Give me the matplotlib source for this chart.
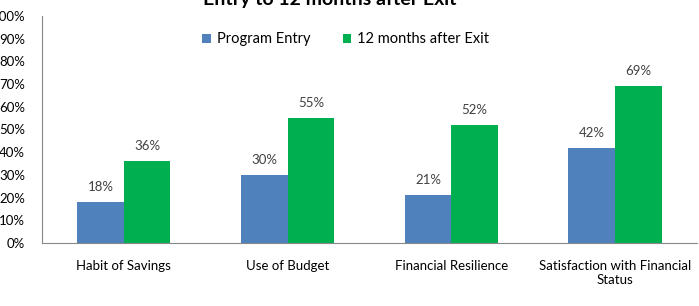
import matplotlib
matplotlib.use("Agg")
import matplotlib.pyplot as plt
import numpy as np

categories = ["Habit of Savings", "Use of Budget", "Financial Resilience",
              "Satisfaction with Financial\nStatus"]
program_entry = [18, 30, 21, 42]
after_exit = [36, 55, 52, 69]
series_names = ["Program Entry", "12 months after Exit"]
title = "Entry to 12 months after Exit"

plt.rcParams['font.family'] = ['Lato', 'DejaVu Sans']

fig = plt.figure(figsize=(6.99, 3.06), dpi=100)
ax = fig.add_axes([0.060, 0.206, 0.937, 0.742])

x = np.arange(len(categories))
w = 0.285
b1 = ax.bar(x - w / 2, program_entry, w, color="#4F81BD", label=series_names[0])
b2 = ax.bar(x + w / 2, after_exit, w, color="#00B050", label=series_names[1])

for bars, vals in ((b1, program_entry), (b2, after_exit)):
    for r, v in zip(bars, vals):
        ax.text(r.get_x() + r.get_width() / 2, v + 4, f"{v}%", ha="center",
                va="bottom", fontsize=9.5, color="#404040")

ax.set_xlim(-0.5, len(categories) - 0.5)
ax.set_ylim(0, 100)
ax.set_yticks(range(0, 101, 10))
ax.set_yticklabels([f"{t}%" for t in range(0, 101, 10)])
ax.set_xticks(x)
ax.set_xticklabels(categories)
ax.tick_params(axis="both", length=0, labelsize=9.5, colors="#000000")
ax.tick_params(axis="y", pad=12)
ax.tick_params(axis="x", pad=12)

for s in ("top", "right"):
    ax.spines[s].set_visible(False)
for s in ("left", "bottom"):
    ax.spines[s].set_color("#888888")
    ax.spines[s].set_linewidth(0.8)

ax.legend(loc="upper center", bbox_to_anchor=(0.464, 0.985), ncol=2, frameon=False,
          fontsize=10.5, handlelength=0.6, handleheight=0.6, columnspacing=2.2,
          handletextpad=0.4)

fig.text(0.472, 1.0, title, ha="center", va="center", fontsize=14, fontweight="bold")

fig.savefig("out.png", dpi=100)
